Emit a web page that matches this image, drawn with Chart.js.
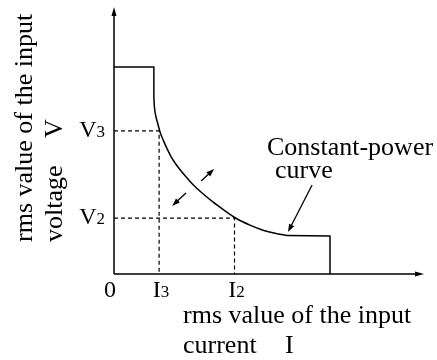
<!DOCTYPE html>
<html>
<head>
<meta charset="utf-8">
<script src="https://cdn.jsdelivr.net/npm/chart.js@4.4.1/dist/chart.umd.min.js"></script>
<style>
    html, body { margin: 0; padding: 0; background: #fff; }
    #wrap { width: 437px; height: 360px; }
</style>
</head>
<body>
<div id="wrap"><canvas id="chart"></canvas></div>
<script>
// Constant-power curve (arbitrary units, axes 0..10).
const curveI = [1.29, 1.31, 1.35, 1.42, 1.49, 1.59, 1.72, 1.85, 2.01, 2.33, 2.56, 2.88, 3.20, 3.56, 3.92, 4.40, 4.82, 5.21, 5.60];
const curveV = [6.67, 6.30, 6.00, 5.68, 5.38, 5.08, 4.74, 4.44, 4.15, 3.68, 3.38, 3.04, 2.73, 2.42, 2.13, 1.85, 1.66, 1.54, 1.46];

// Voltage limit (left) and current limit (right).
const upperI = [0, 1.29, 1.29];
const upperV = [7.84, 7.84, 6.67];
const lowerI = [5.60, 6.99, 6.99];
const lowerV = [1.46, 1.44, 0];

// Operating points marked by dashed guides.
const opI = [1.46, 3.90];
const opV = [5.42, 2.12];
const xTickValues = [0, 1.46, 3.90];
const xTickLabels = [['0', ''], ['I', '3'], ['I', '2']];
const yTickValues = [5.42, 2.12];
const yTickLabels = [['V', '3'], ['V', '2']];

// Small arrows: [fromI, fromV, toI, toV].
const arrows = [
    [2.82, 3.52, 3.24, 3.98],
    [2.33, 3.07, 1.88, 2.58],
    [6.41, 3.37, 5.63, 1.59],
];

const serif = '"Liberation Serif", "Times New Roman", serif';

function pts(xs, ys) {
    return xs.map((v, i) => ({x: v, y: ys[i]}));
}

function arrowHead(ctx, fx, fy, tx, ty, len, half) {
    const ang = Math.atan2(ty - fy, tx - fx);
    ctx.beginPath();
    ctx.moveTo(tx, ty);
    ctx.lineTo(tx - len * Math.cos(ang) + half * Math.sin(ang), ty - len * Math.sin(ang) - half * Math.cos(ang));
    ctx.lineTo(tx - len * Math.cos(ang) - half * Math.sin(ang), ty - len * Math.sin(ang) + half * Math.cos(ang));
    ctx.closePath();
    ctx.fill();
}

function subLabel(ctx, main, sub, cx, base, align) {
    ctx.font = '24px ' + serif;
    const w1 = ctx.measureText(main).width;
    ctx.font = '17px ' + serif;
    const w2 = ctx.measureText(sub).width;
    let left = align == 'right' ? cx - w1 - w2 : cx - (w1 + w2) / 2;
    ctx.textAlign = 'left';
    ctx.font = '24px ' + serif;
    ctx.fillText(main, left, base);
    ctx.font = '17px ' + serif;
    ctx.fillText(sub, left + w1, base);
}

const sketch = {
    id: 'sketch',
    afterDatasetsDraw(chart) {
        const {ctx, chartArea: a, scales: {x, y}} = chart;
        const x0 = x.getPixelForValue(0), y0 = y.getPixelForValue(0);
        ctx.save();
        ctx.strokeStyle = '#000';
        ctx.fillStyle = '#000';
        ctx.lineWidth = 1.5;

        // Axes with arrow heads.
        ctx.beginPath();
        ctx.moveTo(x0, y0); ctx.lineTo(x0, a.top + 4);
        ctx.moveTo(x0, y0); ctx.lineTo(a.right - 4, y0);
        ctx.stroke();
        arrowHead(ctx, x0, y0, x0, a.top - 3, 9, 2.5);
        arrowHead(ctx, x0, y0, a.right + 1, y0, 9, 2.5);

        // Small arrows.
        ctx.lineWidth = 1.3;
        arrows.forEach(([fi, fv, ti, tv]) => {
            const fx = x.getPixelForValue(fi), fy = y.getPixelForValue(fv);
            const tx = x.getPixelForValue(ti), ty = y.getPixelForValue(tv);
            const ang = Math.atan2(ty - fy, tx - fx);
            ctx.beginPath();
            ctx.moveTo(fx, fy);
            ctx.lineTo(tx - 6 * Math.cos(ang), ty - 6 * Math.sin(ang));
            ctx.stroke();
            arrowHead(ctx, fx, fy, tx, ty, 8, 2.8);
        });

        // Tick labels.
        ctx.textBaseline = 'alphabetic';
        xTickValues.forEach((v, i) => {
            const px = x.getPixelForValue(v) + (i == 0 ? -4 : 2);
            subLabel(ctx, xTickLabels[i][0], xTickLabels[i][1], px, y0 + 23, 'center');
        });
        yTickValues.forEach((v, i) => {
            subLabel(ctx, yTickLabels[i][0], yTickLabels[i][1], x0 - 9, y.getPixelForValue(v) + 6, 'right');
        });

        // Curve caption.
        ctx.font = '26px ' + serif;
        ctx.textAlign = 'left';
        ctx.fillText('Constant-power', a.left + 153, a.top + 145);
        ctx.fillText('curve', a.left + 161, a.top + 168);

        // X axis title.
        ctx.fillText('rms value of the input', a.left + 69, y0 + 49);
        ctx.fillText('current', a.left + 69, y0 + 79);
        ctx.fillText('I', a.left + 171, y0 + 79);

        // Y axis title, rotated.
        ctx.save();
        ctx.translate(a.left - 82, y0 - 32);
        ctx.rotate(-Math.PI / 2);
        ctx.fillText('rms value of the input', 0, 0);
        ctx.fillText('voltage', 0, 30);
        ctx.fillText('V', 104, 30);
        ctx.restore();

        ctx.restore();
    }
};

const solid = {showLine: true, borderColor: '#000', borderWidth: 1.5, pointRadius: 0, fill: false, clip: false};
const dashed = {showLine: true, borderColor: '#000', borderWidth: 1.2, borderDash: [4, 3], pointRadius: 0, fill: false, clip: false};

new Chart(document.getElementById('chart'), {
    type: 'scatter',
    data: {
        datasets: [
            Object.assign({data: pts([0, opI[0], opI[0]], [opV[0], opV[0], 0])}, dashed),
            Object.assign({data: pts([0, opI[1], opI[1]], [opV[1], opV[1], 0])}, dashed),
            Object.assign({data: pts(upperI, upperV), tension: 0}, solid),
            Object.assign({data: pts(curveI, curveV), cubicInterpolationMode: 'monotone'}, solid),
            Object.assign({data: pts(lowerI, lowerV), tension: 0}, solid),
        ],
    },
    options: {
        responsive: true,
        maintainAspectRatio: false,
        animation: false,
        events: [],
        layout: {
            padding: {left: 114, right: 14, top: 10, bottom: 86},
        },
        scales: {
            x: {type: 'linear', min: 0, max: 10, display: false},
            y: {type: 'linear', min: 0, max: 10, display: false},
        },
        plugins: {
            legend: {display: false},
            tooltip: {enabled: false},
        },
    },
    plugins: [sketch],
});
</script>
</body>
</html>
